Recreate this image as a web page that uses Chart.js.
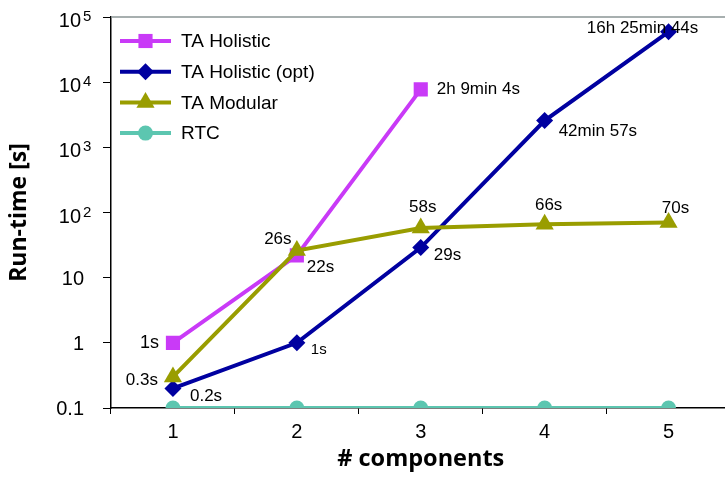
<!DOCTYPE html>
<html>
<head>
<meta charset="utf-8">
<script src="https://cdn.jsdelivr.net/npm/chart.js@4.4.0/dist/chart.umd.min.js"></script>
<style>
  html, body { margin: 0; padding: 0; overflow: hidden; background: #fff; }
  canvas { display: block; }
</style>
</head>
<body>
<canvas id="chart" width="741" height="477"></canvas>
<script>
// Run-time per number of components (seconds, log scale)
const components = ['1', '2', '3', '4', '5'];
const taHolistic = [1, 22, 7744, null, null];
const taHolisticOpt = [0.2, 1, 29, 2577, 59144];
const taModular = [0.3, 26, 58, 66, 70];
const rtc = [0.1, 0.1, 0.1, 0.1, 0.1];

const taHolisticLabels = ['1s', '22s', '2h 9min 4s', null, null];
const taHolisticOptLabels = ['0.2s', '1s', '29s', '42min 57s', '16h 25min 44s'];
const taModularLabels = ['0.3s', '26s', '58s', '66s', '70s'];

const yTickValues = [0.1, 1, 10, 100, 1000, 10000, 100000];
const yTickBase = ['0.1', '1', '10', '10', '10', '10', '10'];
const yTickExp = ['', '', '', '2', '3', '4', '5'];

const seriesNames = ['TA Holistic', 'TA Holistic (opt)', 'TA Modular', 'RTC'];

// label placement next to each point: [dx, dy, align, fontSize]
const labelPlacement = [
  [[-14, 0, 'right', 18], [10, 12, 'left', 17], [16, 0, 'left', 17]],
  [[17, 8, 'left', 17], [14, 7, 'left', 15], [13, 8, 'left', 17], [14, 11, 'left', 17], [-26, -4, 'center', 17]],
  [[-15, 3, 'right', 17], [-19, -11, 'center', 17], [2, -21, 'center', 17], [4, -19, 'center', 17], [7, -14, 'center', 17]],
  []
];
const pointLabels = [taHolisticLabels, taHolisticOptLabels, taModularLabels, []];

const FONT = "'Liberation Sans', Arial, sans-serif";
const TITLE_FONT = "'Open Sans', sans-serif";

const pointLabelPlugin = {
  id: 'pointLabels',
  afterDatasetsDraw(chart) {
    const ctx = chart.ctx;
    ctx.save();
    ctx.fillStyle = '#000';
    ctx.textBaseline = 'middle';
    pointLabels.forEach((labels, di) => {
      const meta = chart.getDatasetMeta(di);
      labels.forEach((text, i) => {
        if (!text) return;
        const el = meta.data[i];
        const [dx, dy, align, size] = labelPlacement[di][i];
        ctx.font = size + 'px ' + FONT;
        ctx.textAlign = align;
        ctx.fillText(text, el.x + dx, el.y + dy);
      });
    });
    ctx.restore();
  }
};

const yLabelPlugin = {
  id: 'yLabels',
  afterDraw(chart) {
    const ctx = chart.ctx;
    const y = chart.scales.y;
    const right = chart.chartArea.left - 27;
    ctx.save();
    ctx.fillStyle = '#000';
    ctx.textBaseline = 'alphabetic';
    yTickValues.forEach((v, i) => {
      const py = y.getPixelForValue(v);
      ctx.font = '20px ' + FONT;
      if (yTickExp[i]) {
        ctx.textAlign = 'right';
        ctx.fillText(yTickBase[i], right - 3, py + 10);
        ctx.font = '15px ' + FONT;
        ctx.textAlign = 'left';
        ctx.fillText(yTickExp[i], right - 1, py + 4);
      } else {
        ctx.textAlign = 'right';
        ctx.fillText(yTickBase[i], right, py + 7);
      }
    });
    ctx.restore();
  }
};

const frameAndLegendPlugin = {
  id: 'frameLegend',
  beforeDatasetsDraw(chart) {
    const ctx = chart.ctx;
    const a = chart.chartArea;
    ctx.save();
    ctx.strokeStyle = '#8a9494';
    ctx.lineWidth = 1.5;
    ctx.beginPath();
    ctx.moveTo(a.left, a.top);
    ctx.lineTo(chart.width, a.top);
    ctx.stroke();
    ctx.restore();
  },
  afterDraw(chart) {
    const ctx = chart.ctx;
    const a = chart.chartArea;
    const x0 = a.left + 9, x1 = a.left + 60, xm = (x0 + x1) / 2;
    const rowTop = a.top + 24, rowStep = 30.7;
    ctx.save();
    chart.data.datasets.forEach((ds, i) => {
      const yy = rowTop + i * rowStep;
      ctx.strokeStyle = ds.borderColor;
      ctx.lineWidth = ds.borderWidth;
      ctx.beginPath();
      ctx.moveTo(x0, yy);
      ctx.lineTo(x1, yy);
      ctx.stroke();
      ctx.fillStyle = ds.pointBackgroundColor;
      ctx.strokeStyle = ds.pointBackgroundColor;
      Chart.helpers.drawPoint(ctx, {
        pointStyle: ds.pointStyle, radius: ds.pointRadius, rotation: 0, borderWidth: 0
      }, xm, yy);
      ctx.fillStyle = '#000';
      ctx.font = '19px ' + FONT;
      ctx.textAlign = 'left';
      ctx.textBaseline = 'middle';
      ctx.fillText(ds.label, x1 + 10, yy + 1);
    });
    ctx.restore();
  }
};

function series(label, data, color, style, radius, order) {
  return {
    label, data, order,
    borderColor: color,
    backgroundColor: color,
    pointBackgroundColor: color,
    pointBorderColor: color,
    pointBorderWidth: 0,
    pointStyle: style,
    pointRadius: radius,
    pointHoverRadius: radius,
    borderWidth: 4,
    tension: 0,
    spanGaps: false
  };
}

new Chart(document.getElementById('chart'), {
  type: 'line',
  data: {
    labels: components,
    datasets: [
      series(seriesNames[0], taHolistic, '#c93af7', 'rect', 10, 4),
      series(seriesNames[1], taHolisticOpt, '#0000a0', 'rectRot', 8.5, 3),
      series(seriesNames[2], taModular, '#999d00', 'triangle', 10.5, 2),
      series(seriesNames[3], rtc, '#5cc6b0', 'circle', 7.5, 1)
    ]
  },
  options: {
    responsive: false,
    animation: false,
    events: [],
    layout: { padding: { top: 17, right: 0, bottom: 0, left: 0 } },
    plugins: { legend: { display: false }, tooltip: { enabled: false } },
    scales: {
      x: {
        type: 'category',
        offset: true,
        grid: { display: true, offset: true, drawOnChartArea: false, drawTicks: true, tickLength: 6, color: '#000', lineWidth: 1 },
        border: { display: true, color: '#000', width: 1.5 },
        ticks: { color: '#000', padding: 6, font: { family: FONT, size: 20 } },
        title: { display: true, text: '# components', color: '#000', font: { family: TITLE_FONT, size: 23.5, weight: 'bold' }, padding: { top: 0, bottom: 4 } },
        afterFit(scale) { scale.height = 69; }
      },
      y: {
        type: 'logarithmic',
        min: 0.1,
        max: 100000,
        afterBuildTicks(scale) { scale.ticks = yTickValues.map(v => ({ value: v })); },
        grid: { display: true, drawOnChartArea: false, drawTicks: true, tickLength: 8, color: '#000', lineWidth: 1 },
        border: { display: true, color: '#000', width: 1.5 },
        ticks: { display: false },
        title: { display: true, text: 'Run-time [s]', color: '#000', font: { family: TITLE_FONT, size: 23, weight: 'bold' }, padding: { top: 6, bottom: 0 } },
        afterFit(scale) { scale.width = 111; }
      }
    }
  },
  plugins: [frameAndLegendPlugin, pointLabelPlugin, yLabelPlugin]
});
</script>
</body>
</html>
